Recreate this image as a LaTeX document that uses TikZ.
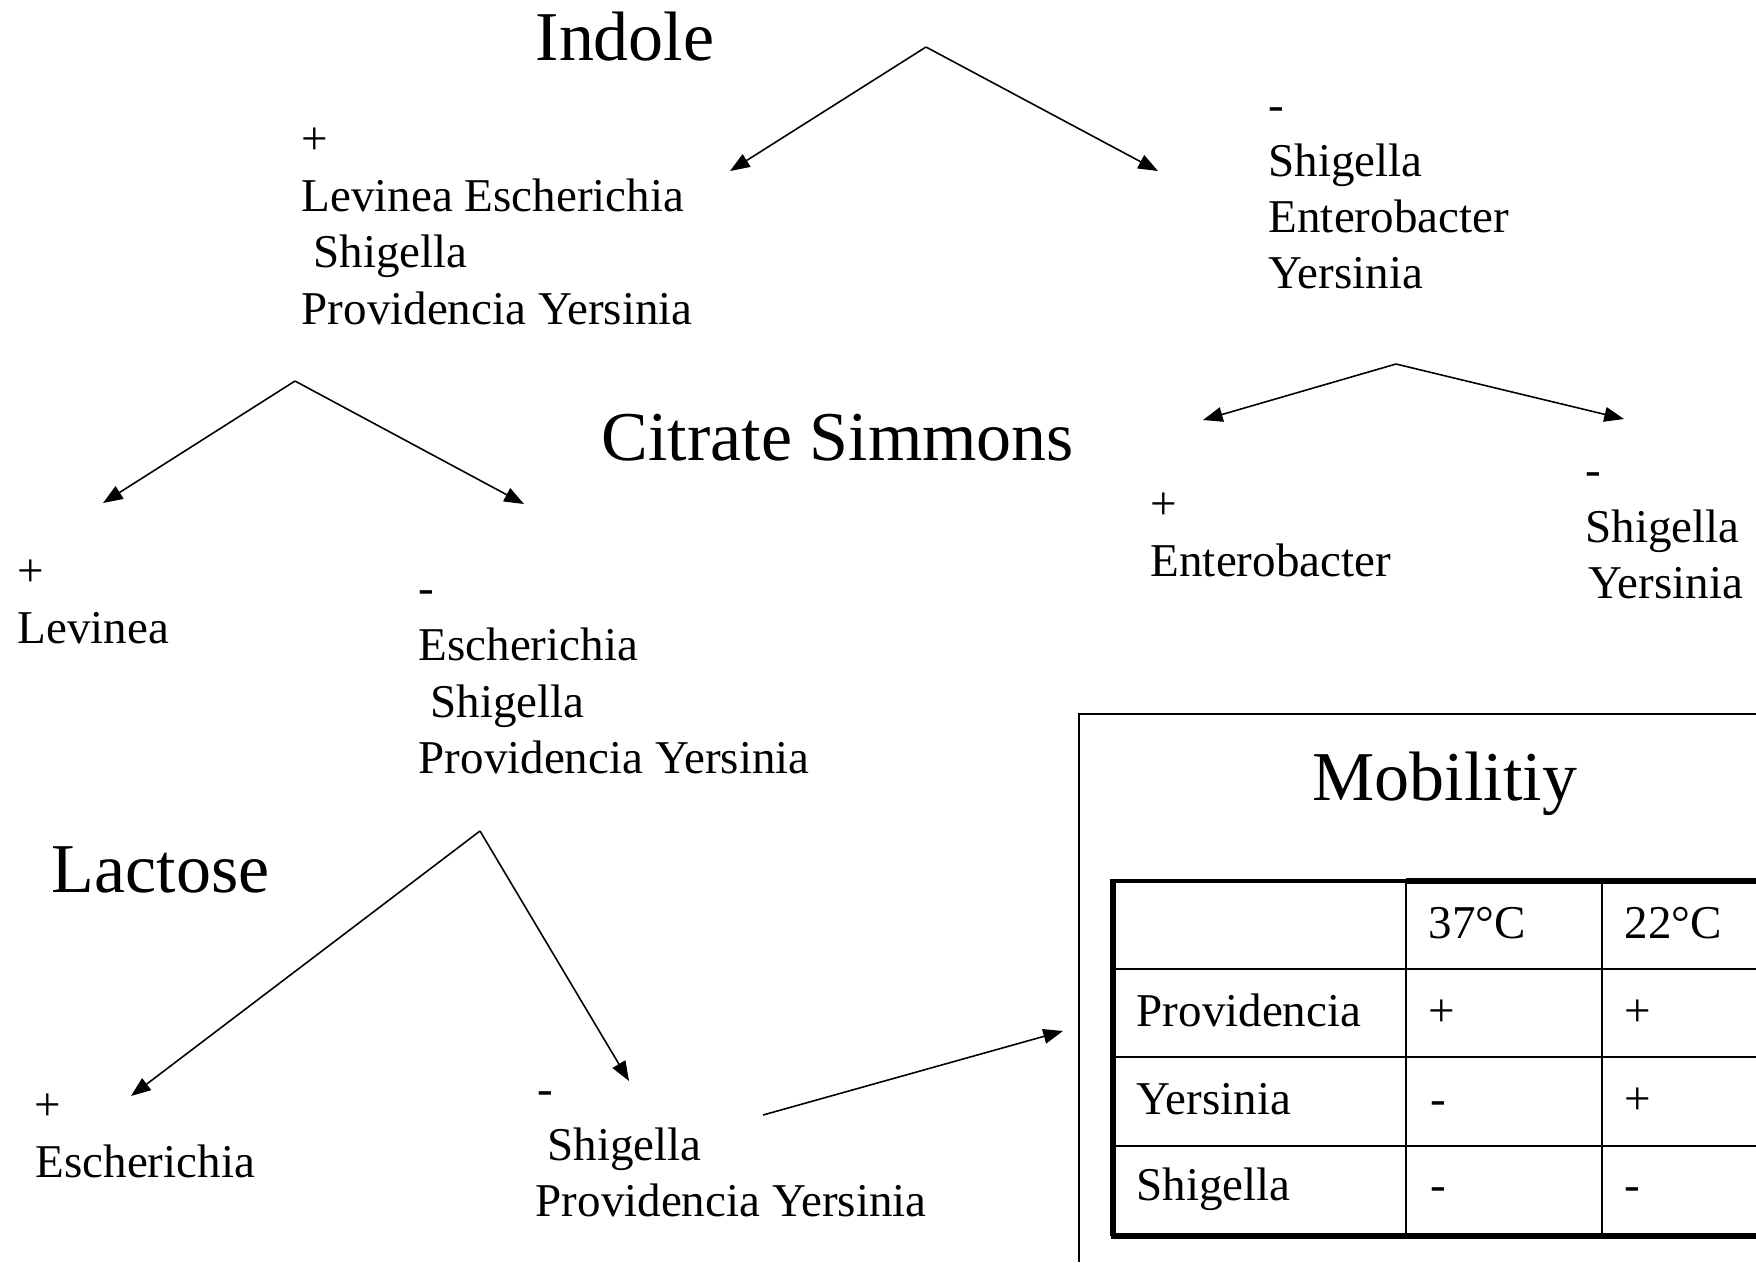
\documentclass[tikz,border=0pt]{standalone}
\usepackage{fontspec}
\setmainfont{Liberation Serif}
\usetikzlibrary{arrows.meta}
\tikzset{
  txt/.style={anchor=base west,inner sep=0pt,font=\fontsize{13.37}{16.1}\selectfont},
  head/.style={anchor=base west,inner sep=0pt,font=\fontsize{19.9}{24}\selectfont},
  arr/.style={line width=0.45pt,-{Triangle[length=5.6pt,width=4.2pt]}},
  thin/.style={line width=0.6pt},
  thick/.style={line width=1.5pt},
}
\begin{document}
\begin{tikzpicture}[x=0.01cm,y=-0.01cm]
\useasboundingbox (0,0) rectangle (1756,1262);
% headings
\node[head] (indole) at (535,60) {Indole};
\node[head] (citrate) at (601,460) {Citrate Simmons};
\node[head] (lactose) at (51,892) {Lactose};
% block A
\node[txt] (a0) at (301,154) {+};
\node[txt] (a1) at (301,211) {Levinea Escherichia};
\node[txt] (a2) at (313,267) {Shigella};
\node[txt] (a3) at (301,324) {Providencia Yersinia};
% block B
\node[txt] (b0) at (1268,120) {-};
\node[txt] (b1) at (1268,176) {Shigella};
\node[txt] (b2) at (1268,232) {Enterobacter};
\node[txt] (b3) at (1268,288) {Yersinia};
% block C
\node[txt] (c0) at (17,586) {+};
\node[txt] (c1) at (17,643) {Levinea};
% block D
\node[txt] (d0) at (418,603) {-};
\node[txt] (d1) at (418,660) {Escherichia};
\node[txt] (d2) at (430,717) {Shigella};
\node[txt] (d3) at (418,773) {Providencia Yersinia};
% block E
\node[txt] (e0) at (1150,519) {+};
\node[txt] (e1) at (1150,576) {Enterobacter};
% block F
\node[txt] (f0) at (1585,485) {-};
\node[txt] (f1) at (1585,542) {Shigella};
\node[txt] (f2) at (1588,598) {Yersinia};
% block G
\node[txt] (g0) at (34,1120) {+};
\node[txt] (g1) at (35,1177) {Escherichia};
% block H
\node[txt] (h0) at (537,1104) {-};
\node[txt] (h1) at (547,1160) {Shigella};
\node[txt] (h2) at (535,1216) {Providencia Yersinia};
% arrow coordinates
\coordinate (p1) at (926,47);
\coordinate (p1l) at (730,171);
\coordinate (p1r) at (1158,171);
\coordinate (p2) at (295,381);
\coordinate (p2l) at (103,503);
\coordinate (p2r) at (524,504);
\coordinate (p3) at (1396,364);
\coordinate (p3l) at (1203,420);
\coordinate (p3r) at (1624,419);
\coordinate (p4) at (480,831);
\coordinate (p4l) at (131,1096);
\coordinate (p4r) at (629,1081);
\coordinate (p5) at (763,1115);
\coordinate (p5t) at (1063,1031);
\draw[arr] (p1) -- (p1l);
\draw[arr] (p1) -- (p1r);
\draw[arr] (p2) -- (p2l);
\draw[arr] (p2) -- (p2r);
\draw[arr] (p3) -- (p3l);
\draw[arr] (p3) -- (p3r);
\draw[arr] (p4) -- (p4l);
\draw[arr] (p4) -- (p4r);
\draw[arr] (p5) -- (p5t);
% outer frame
\coordinate (fb) at (1079,1262);
\coordinate (ftl) at (1079,714);
\coordinate (fr) at (1756,714);
\draw[line width=0.5pt] (fb) -- (ftl) -- (fr);
\node[head] (mob) at (1312,800) {Mobilitiy};
% table
\draw[thin] (1113,969) -- (1756,969);
\draw[thin] (1113,1057) -- (1756,1057);
\draw[thin] (1113,1146) -- (1756,1146);
\draw[thin] (1406,881) -- (1406,1236);
\draw[thin] (1602,881) -- (1602,1236);
\draw[line width=0.9pt] (1113,881) -- (1406,881);
\draw[thick] (1406,881) -- (1756,881);
\draw[thick] (1113,879) -- (1113,1236);
\draw[thick] (1111,1236) -- (1756,1236);
\node[txt] (t01) at (1428,938) {37°C};
\node[txt] (t02) at (1624,938) {22°C};
\node[txt] (t10) at (1136,1026) {Providencia};
\node[txt] (t11) at (1428,1026) {+};
\node[txt] (t12) at (1624,1026) {+};
\node[txt] (t20) at (1136,1114) {Yersinia};
\node[txt] (t21) at (1430,1114) {-};
\node[txt] (t22) at (1624,1114) {+};
\node[txt] (t30) at (1136,1200) {Shigella};
\node[txt] (t31) at (1430,1200) {-};
\node[txt] (t33) at (1624,1200) {-};
\end{tikzpicture}
\end{document}
